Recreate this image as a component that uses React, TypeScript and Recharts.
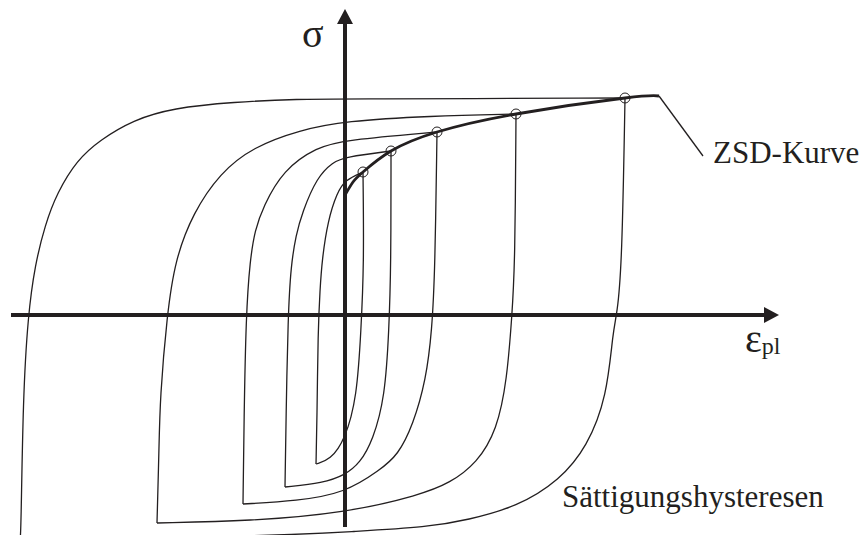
import { ComposedChart, Line, Scatter, XAxis, YAxis, ReferenceLine, ReferenceDot } from 'recharts';

const INK = '#231f20';
const SERIF = "'Liberation Serif', 'Times New Roman', Times, 'DejaVu Serif', serif";

type Pt = { x: number; y: number };

// Saturation hysteresis loops, σ over ε_pl (schematic units).
// Each loop is split in its rising branch (lower tip -> upper tip)
// and its falling branch (upper tip -> lower tip).
const loop1Up: Pt[] = [
  { x: -0.29, y: -1.49 }, { x: -0.28, y: -1.05 }, { x: -0.27, y: -0.15 }, { x: -0.25, y: 0.25 },
  { x: -0.23, y: 0.55 }, { x: -0.17, y: 0.95 }, { x: -0.08, y: 1.22 }, { x: 0, y: 1.35 }, { x: 0.18, y: 1.43 },
];
const loop1Down: Pt[] = [
  { x: 0.18, y: 1.43 }, { x: 0.19, y: 0.5 }, { x: 0.16, y: -0.15 }, { x: 0.12, y: -0.82 },
  { x: 0, y: -1.25 }, { x: -0.15, y: -1.45 }, { x: -0.29, y: -1.49 },
];

const loop2Up: Pt[] = [
  { x: -0.6, y: -1.72 }, { x: -0.59, y: -1.05 }, { x: -0.57, y: 0 }, { x: -0.54, y: 0.5 },
  { x: -0.49, y: 0.8 }, { x: -0.43, y: 1.02 }, { x: -0.28, y: 1.38 }, { x: -0.12, y: 1.53 },
  { x: 0, y: 1.58 }, { x: 0.46, y: 1.64 },
];
const loop2Down: Pt[] = [
  { x: 0.46, y: 1.64 }, { x: 0.46, y: 0.5 }, { x: 0.44, y: -0.15 }, { x: 0.4, y: -0.82 },
  { x: 0.28, y: -1.25 }, { x: 0.15, y: -1.48 }, { x: 0, y: -1.6 }, { x: -0.22, y: -1.68 }, { x: -0.6, y: -1.72 },
];

const loop3Up: Pt[] = [
  { x: -1.02, y: -1.89 }, { x: -1.01, y: -1.05 }, { x: -0.99, y: 0 }, { x: -0.95, y: 0.55 },
  { x: -0.9, y: 0.85 }, { x: -0.82, y: 1.08 }, { x: -0.62, y: 1.45 }, { x: -0.28, y: 1.68 },
  { x: 0, y: 1.75 }, { x: 0.92, y: 1.83 },
];
const loop3Down: Pt[] = [
  { x: 0.92, y: 1.83 }, { x: 0.9, y: 0.45 }, { x: 0.87, y: -0.15 }, { x: 0.81, y: -0.65 },
  { x: 0.68, y: -1.1 }, { x: 0.53, y: -1.4 }, { x: 0.35, y: -1.55 }, { x: 0, y: -1.78 },
  { x: -0.48, y: -1.86 }, { x: -1.02, y: -1.89 },
];

const loop4Up: Pt[] = [
  { x: -1.88, y: -2.08 }, { x: -1.86, y: -1.35 }, { x: -1.85, y: -0.83 }, { x: -1.78, y: 0 },
  { x: -1.7, y: 0.55 }, { x: -1.52, y: 1.02 }, { x: -1.25, y: 1.42 }, { x: -0.92, y: 1.68 },
  { x: -0.45, y: 1.85 }, { x: 0, y: 1.94 }, { x: 0.85, y: 1.99 }, { x: 1.71, y: 2.01 },
];
const loop4Down: Pt[] = [
  { x: 1.71, y: 2.01 }, { x: 1.7, y: 0.5 }, { x: 1.67, y: 0 }, { x: 1.62, y: -0.65 },
  { x: 1.52, y: -1.15 }, { x: 1.32, y: -1.48 }, { x: 1.05, y: -1.68 }, { x: 0.75, y: -1.8 },
  { x: 0, y: -1.98 }, { x: -0.95, y: -2.06 }, { x: -1.88, y: -2.08 },
];

const loop5Up: Pt[] = [
  { x: -3.25, y: -2.26 }, { x: -3.24, y: -2.17 }, { x: -3.22, y: -0.83 }, { x: -3.17, y: 0 },
  { x: -3.1, y: 0.5 }, { x: -3.0, y: 0.9 }, { x: -2.88, y: 1.22 }, { x: -2.68, y: 1.55 },
  { x: -2.45, y: 1.75 }, { x: -2.12, y: 1.95 }, { x: -1.72, y: 2.07 }, { x: -1.12, y: 2.13 },
  { x: -0.45, y: 2.16 }, { x: 0, y: 2.16 }, { x: 2.8, y: 2.17 },
];
const loop5Down: Pt[] = [
  { x: 2.8, y: 2.17 }, { x: 2.77, y: 0.5 }, { x: 2.72, y: 0 }, { x: 2.68, y: -0.15 },
  { x: 2.62, y: -0.82 }, { x: 2.42, y: -1.32 }, { x: 2.15, y: -1.65 }, { x: 1.72, y: -1.92 },
  { x: 1.22, y: -2.05 }, { x: 0.85, y: -2.12 }, { x: 0, y: -2.17 }, { x: -0.32, y: -2.19 },
  { x: -1.95, y: -2.24 }, { x: -3.25, y: -2.26 },
];

// cyclic stress-strain curve (ZSD) through the loop tips
const zsdCurve: Pt[] = [
  { x: 0, y: 1.2 }, { x: 0.08, y: 1.33 }, { x: 0.18, y: 1.43 }, { x: 0.46, y: 1.64 },
  { x: 0.92, y: 1.83 }, { x: 1.71, y: 2.01 }, { x: 2.8, y: 2.17 }, { x: 3.14, y: 2.19 },
];
const zsdTips: Pt[] = [
  { x: 0.18, y: 1.43 }, { x: 0.46, y: 1.64 }, { x: 0.92, y: 1.83 }, { x: 1.71, y: 2.01 }, { x: 2.8, y: 2.17 },
];

const branches = [loop1Up, loop1Down, loop2Up, loop2Down, loop3Up, loop3Down, loop4Up, loop4Down, loop5Up, loop5Down];

const upArrow = (p: any) => (
  <polygon points={`${p.cx},${p.cy} ${p.cx - 8},${p.cy + 15} ${p.cx + 8},${p.cy + 15}`} fill={INK} />
);
const rightArrow = (p: any) => (
  <polygon points={`${p.cx},${p.cy} ${p.cx - 15},${p.cy - 8} ${p.cx - 15},${p.cy + 8}`} fill={INK} />
);
const tipCircle = (p: any) => <circle cx={p.cx} cy={p.cy} r={5} fill="none" stroke={INK} strokeWidth={1} />;

const textAt = (content: React.ReactNode, size: number) => (p: any) => (
  <text x={p.cx} y={p.cy} style={{ fontFamily: SERIF, fontSize: size }} fill={INK}>
    {content}
  </text>
);

export default function App() {
  return (
    <div style={{ position: 'absolute', left: 0, top: 0, background: '#fff' }}>
      <ComposedChart width={865} height={535} margin={{ top: 0, right: 0, bottom: 0, left: 0 }}>
        <XAxis type="number" dataKey="x" domain={[-3.45, 5.2]} allowDataOverflow hide />
        <YAxis type="number" dataKey="y" domain={[-2.2, 3.15]} allowDataOverflow hide />

        <ReferenceLine segment={[{ x: 0, y: -2.12 }, { x: 0, y: 2.95 }]} stroke={INK} strokeWidth={4} />
        <ReferenceLine segment={[{ x: -3.34, y: 0 }, { x: 4.2, y: 0 }]} stroke={INK} strokeWidth={4} />
        <ReferenceDot x={0} y={3.06} shape={upArrow} />
        <ReferenceDot x={4.34} y={0} shape={rightArrow} />

        {branches.map((b, i) => (
          <Line key={i} data={b} dataKey="y" type="basis" stroke={INK} strokeWidth={1.3} dot={false} isAnimationActive={false} />
        ))}

        <Line data={zsdCurve} dataKey="y" type="natural" stroke={INK} strokeWidth={2.8} dot={false} isAnimationActive={false} />
        <Scatter data={zsdTips} shape={tipCircle} isAnimationActive={false} />

        <ReferenceLine segment={[{ x: 3.14, y: 2.19 }, { x: 3.58, y: 1.59 }]} stroke={INK} strokeWidth={1.3} />

        <ReferenceDot x={-0.43} y={2.68} shape={textAt('σ', 40)} />
        <ReferenceDot
          x={4.0}
          y={-0.37}
          shape={textAt(
            <>
              ε<tspan style={{ fontSize: 24 }} dy={2}>pl</tspan>
            </>,
            40,
          )}
        />
        <ReferenceDot x={3.68} y={1.52} shape={textAt('ZSD-Kurve', 31)} />
        <ReferenceDot x={2.17} y={-1.92} shape={textAt('Sättigungshysteresen', 31)} />
      </ComposedChart>
    </div>
  );
}
